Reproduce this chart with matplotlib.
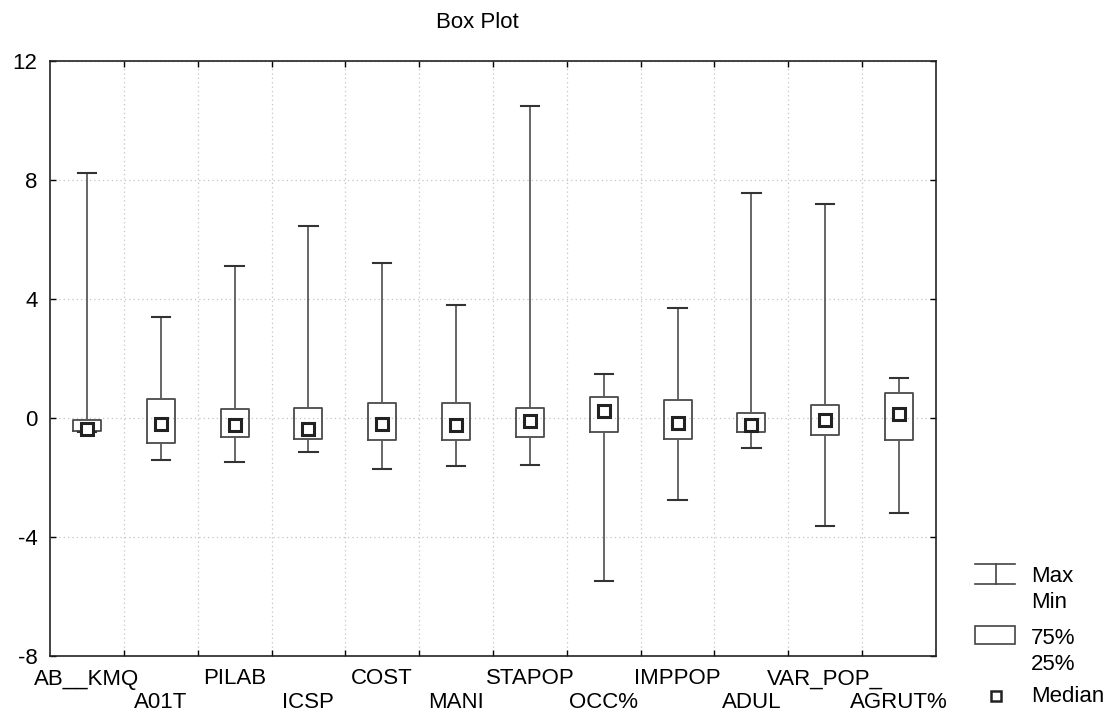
import matplotlib
matplotlib.use("Agg")
import matplotlib.pyplot as plt
from matplotlib.patches import Rectangle
from matplotlib.lines import Line2D

plt.rcParams['font.family'] = ['Liberation Sans', 'DejaVu Sans']

categories = ["AB__KMQ", "A01T", "PILAB", "ICSP", "COST", "MANI",
              "STAPOP", "OCC%", "IMPPOP", "ADUL", "VAR_POP_", "AGRUT%"]
maxs = [8.25, 3.38, 5.11, 6.46, 5.21, 3.80, 10.49, 1.48, 3.71, 7.55, 7.18, 1.34]
q3s = [-0.07, 0.64, 0.30, 0.35, 0.52, 0.52, 0.34, 0.71, 0.61, 0.16, 0.44, 0.84]
medians = [-0.37, -0.20, -0.24, -0.36, -0.21, -0.22, -0.10, 0.24, -0.16, -0.22, -0.07, 0.13]
q1s = [-0.44, -0.84, -0.64, -0.69, -0.73, -0.75, -0.64, -0.47, -0.71, -0.48, -0.57, -0.74]
mins = [-0.47, -1.41, -1.48, -1.14, -1.73, -1.61, -1.58, -5.49, -2.75, -1.00, -3.64, -3.18]
yticks = [-8, -4, 0, 4, 8, 12]

FS = 16
W, H = 1111, 720
fig = plt.figure(figsize=(W / 100, H / 100), dpi=100)
ax = fig.add_axes([50 / W, 1 - 656 / H, 886 / W, 595 / H])

pos = list(range(len(categories)))
stats = []
for i, c in enumerate(categories):
    stats.append(dict(label=c, whislo=mins[i], q1=q1s[i], med=medians[i],
                      q3=q3s[i], whishi=maxs[i]))

edge = "#4a4a4a"
ax.bxp(stats, positions=pos, widths=0.38, showfliers=False,
       boxprops=dict(color=edge, linewidth=1.3),
       whiskerprops=dict(color="#5a5a5a", linewidth=1.3),
       capprops=dict(color="#333333", linewidth=1.5),
       medianprops=dict(linewidth=0), capwidths=0.25, zorder=3)
ax.plot(pos, medians, linestyle="none", marker="s", markersize=8.5,
        markerfacecolor="white", markeredgecolor="#222222",
        markeredgewidth=2.2, zorder=4)

ax.set_xlim(-0.5, len(categories) - 0.5)
ax.set_ylim(-8, 12)
ax.set_yticks(yticks)
ax.set_yticklabels([str(v) for v in yticks])
ax.set_xticks([i + 0.5 for i in range(len(categories) - 1)])
ax.set_xticklabels([])
# first row of labels (even categories)
ax.set_xticks(pos[0::2], minor=True)
ax.set_xticklabels(categories[0::2], minor=True)
ax.tick_params(axis="x", which="minor", length=0, pad=9, labelsize=FS)
# second row of labels (odd categories)
sec = ax.secondary_xaxis("bottom")
sec.set_xticks(pos[1::2])
sec.set_xticklabels(categories[1::2])
sec.tick_params(axis="x", length=0, pad=26, labelsize=FS)
sec.spines["bottom"].set_visible(False)

ax.tick_params(axis="both", which="major", direction="in", length=4,
               top=True, right=True, labelsize=FS, width=1)
ax.tick_params(axis="y", pad=9)
ax.grid(True, which="major", linestyle=(0, (1, 2.5)), color="#c4c4c4", linewidth=0.9)
for s in ax.spines.values():
    s.set_linewidth(1.2)
    s.set_color("#222222")

fig.text(477 / W, 1 - 22 / H, "Box Plot", ha="center", va="center", fontsize=FS)

# legend drawn in pixel coordinates
lg = fig.add_axes([0, 0, 1, 1], zorder=-1)
lg.set_xlim(0, W)
lg.set_ylim(H, 0)
lg.axis("off")
lc = "#444444"
lg.add_line(Line2D([975, 1015], [564, 564], color=lc, lw=1.2))
lg.add_line(Line2D([975, 1015], [584, 584], color=lc, lw=1.2))
lg.add_line(Line2D([996, 996], [564, 584], color=lc, lw=1.2))
lg.add_patch(Rectangle((975, 626), 40, 18, facecolor="white", edgecolor=lc, lw=1.2))
lg.plot([996], [696], linestyle="none", marker="s", markersize=7,
        markerfacecolor="white", markeredgecolor="#222222", markeredgewidth=1.8)
for txt, y in [("Max", 577), ("Min", 603), ("75%", 638), ("25%", 664), ("Median", 696)]:
    lg.text(1031, y, txt, ha="left", va="center", fontsize=FS)

fig.savefig("out.png", dpi=100)
